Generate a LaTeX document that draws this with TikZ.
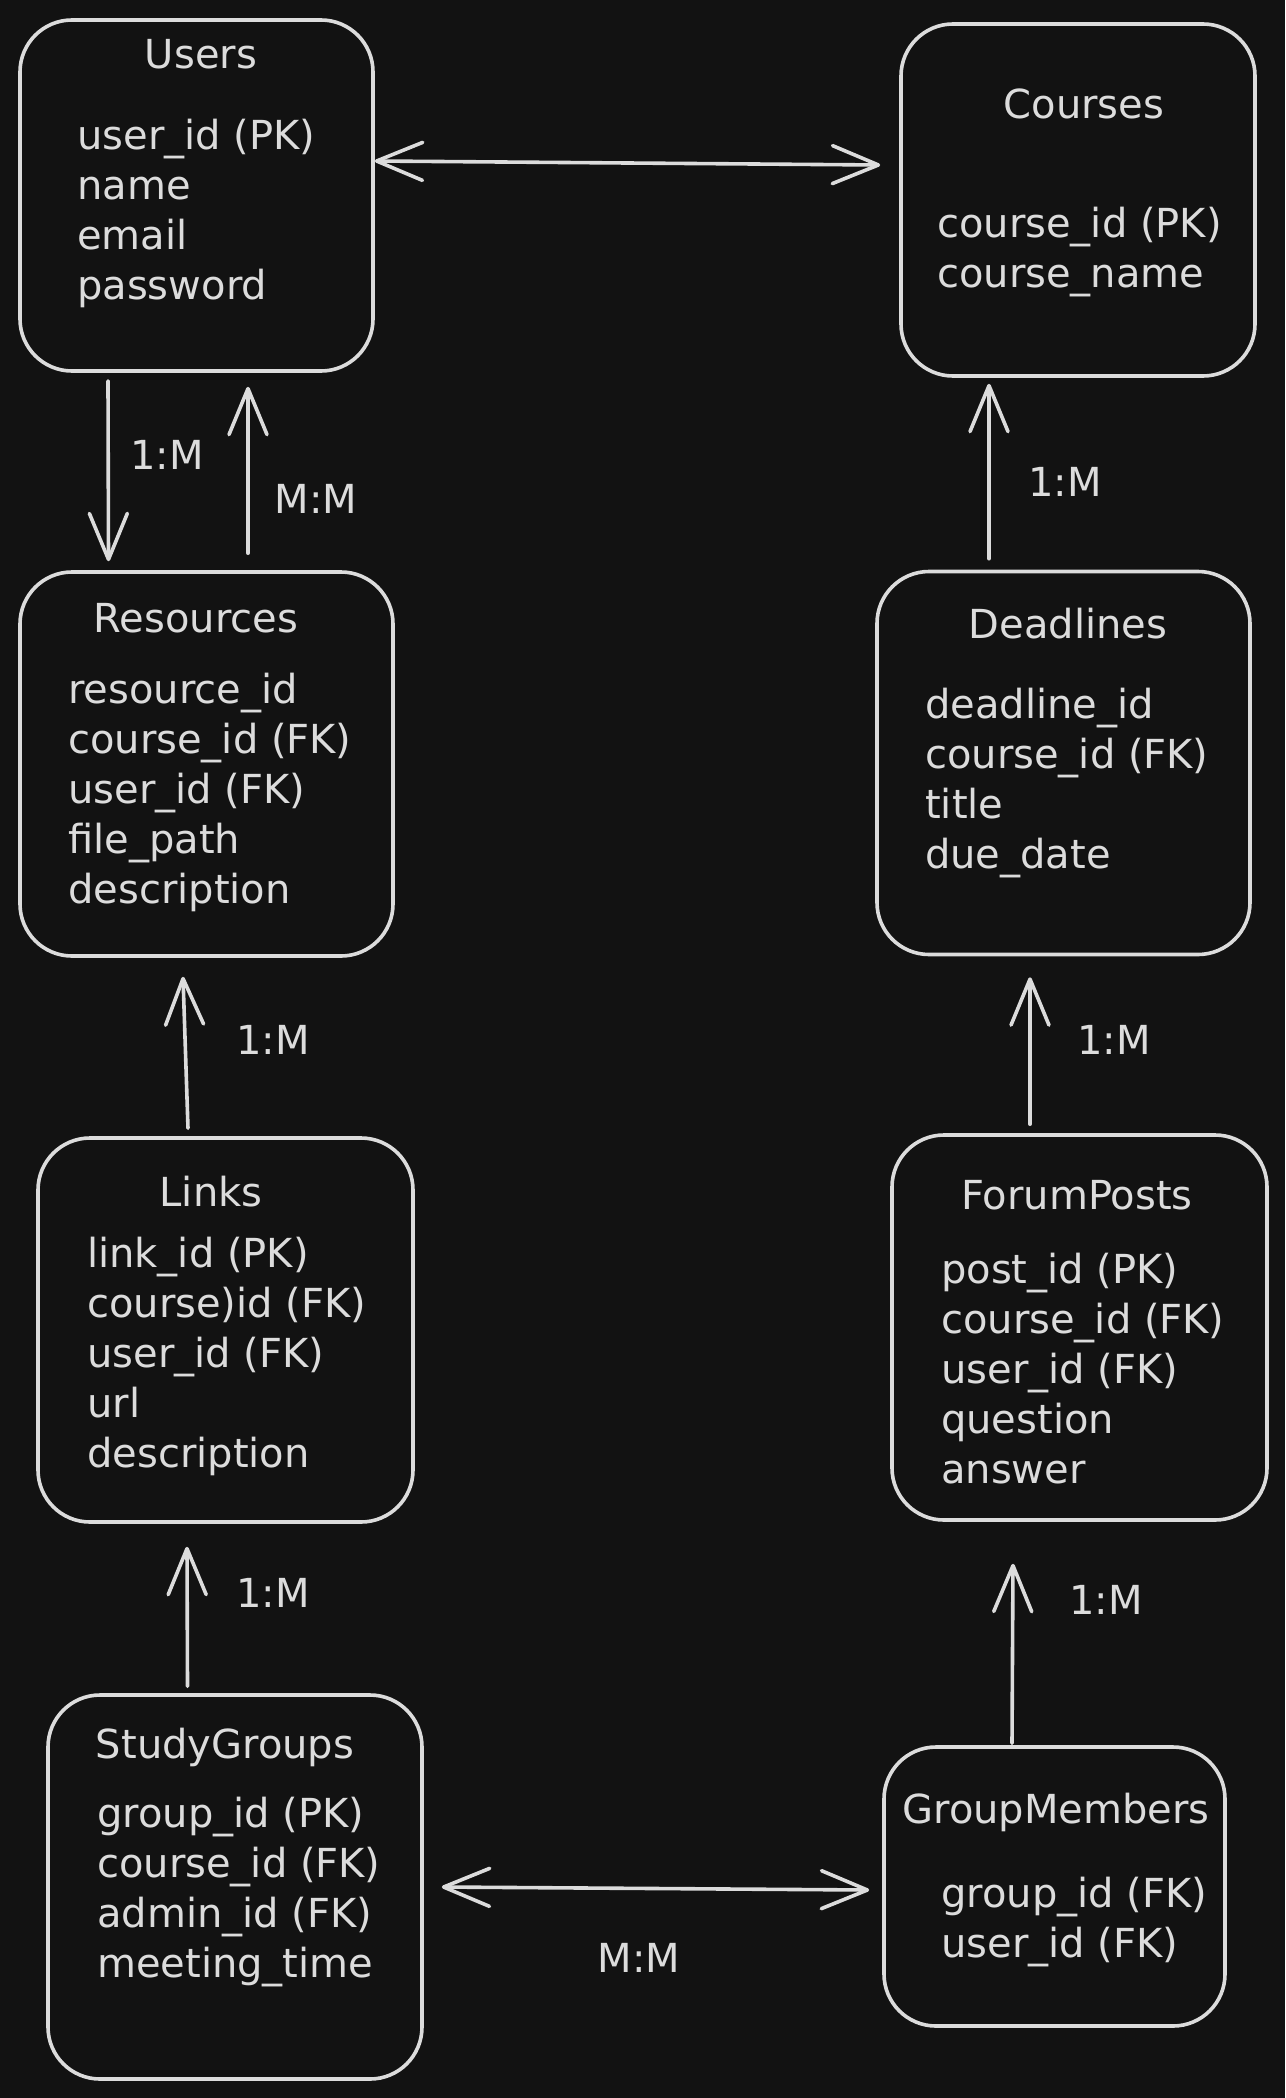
\documentclass[tikz,border=0pt]{standalone}
\usepackage{fontspec}
\setmainfont{DejaVu Sans}
\usepackage{tikz}
\usetikzlibrary{arrows.meta,positioning}
\definecolor{bg}{RGB}{18,18,18}
\definecolor{ink}{RGB}{220,220,220}
\tikzset{
  er_box/.style = {draw=ink, line width=3.6pt, rounded corners=52pt,
    inner sep=0pt},% entity box
  er_title/.style = {text=ink, anchor=base, inner sep=0pt,
    font=\fontsize{40}{50}\selectfont},% entity name
  er_attr/.style = {text=ink, anchor=north west, align=left, inner sep=0pt,
    font=\fontsize{40}{50}\selectfont},% entity fields
  er_card/.style = {text=ink, anchor=base, inner sep=0pt,
    font=\fontsize{40}{50}\selectfont},% cardinality
  er_link/.style = {draw=ink, line width=3.6pt, line cap=round}
}

\begin{document}
\begin{tikzpicture}[x=1pt,y=-1pt,>={Straight Barb[length=46pt,width=38pt,round]}]
        \fill[bg] (0,0) rectangle (1285,2098);
        % entities
        \node [er_box, minimum width=353pt, minimum height=351pt] (users) at (196.5,195.5) {};
        \node [er_box, minimum width=354pt, minimum height=352pt] (courses) at (1078,200) {};
        \node [er_box, minimum width=373pt, minimum height=384pt] (resources) at (206.5,764) {};
        \node [er_box, minimum width=373pt, minimum height=383pt] (deadlines) at (1063.5,763) {};
        \node [er_box, minimum width=375pt, minimum height=384pt] (links) at (225.5,1330) {};
        \node [er_box, minimum width=375pt, minimum height=385pt] (forum) at (1079.5,1327.5) {};
        \node [er_box, minimum width=374pt, minimum height=384pt] (study) at (235,1887) {};
        \node [er_box, minimum width=341pt, minimum height=279pt] (members) at (1054.5,1886.5) {};
        % names
        \node [er_title] (users_t) at (201,69) {Users};
        \node [er_title] (courses_t) at (1084,119) {Courses};
        \node [er_title] (resources_t) at (196,632) {Resources};
        \node [er_title] (deadlines_t) at (1068,638) {Deadlines};
        \node [er_title] (links_t) at (211,1206) {Links};
        \node [er_title] (forum_t) at (1077,1209) {ForumPosts};
        \node [er_title] (study_t) at (225,1758) {StudyGroups};
        \node [er_title] (members_t) at (1056,1823) {GroupMembers};
        % fields
        \node [er_attr] (users_a) at (77,118.5)
            {user\_id (PK)\\name\\email\\password};
        \node [er_attr] (courses_a) at (937,206.5)
            {course\_id (PK)\\course\_name};
        \node [er_attr] (resources_a) at (68,672.5)
            {resource\_id\\course\_id (FK)\\user\_id (FK)\\file\_path\\description};
        \node [er_attr] (deadlines_a) at (925,687.5)
            {deadline\_id\\course\_id (FK)\\title\\due\_date};
        \node [er_attr] (links_a) at (87,1236.5)
            {link\_id (PK)\\course)id (FK)\\user\_id (FK)\\url\\description};
        \node [er_attr] (forum_a) at (941,1252.5)
            {post\_id (PK)\\course\_id (FK)\\user\_id (FK)\\question\\answer};
        \node [er_attr] (study_a) at (97,1796.5)
            {group\_id (PK)\\course\_id (FK)\\admin\_id (FK)\\meeting\_time};
        \node [er_attr] (members_a) at (941,1876.5)
            {group\_id (FK)\\user\_id (FK)};
        % relations
        \draw [er_link,<->] ([yshift=34.5pt]users.east) -- ([xshift=-19pt,yshift=35pt]courses.west);
        \draw [er_link,->] ([xshift=-88.5pt,yshift=-8pt]users.south) -- ([xshift=-98pt,yshift=9pt]resources.north);
        \draw [er_link,->] ([xshift=41.5pt,yshift=17pt]resources.north) -- ([xshift=51.5pt,yshift=-14pt]users.south);
        \draw [er_link,->] ([xshift=-74.5pt,yshift=11pt]deadlines.north) -- ([xshift=-89pt,yshift=-6pt]courses.south);
        \draw [er_link,->] ([xshift=-37.5pt,yshift=8pt]links.north) -- ([xshift=-23.5pt,yshift=-19pt]resources.south);
        \draw [er_link,->] ([xshift=-49.5pt,yshift=9pt]forum.north) -- ([xshift=-33.5pt,yshift=-21pt]deadlines.south);
        \draw [er_link,->] ([xshift=-47.5pt,yshift=7pt]study.north) -- ([xshift=-38.5pt,yshift=-23pt]links.south);
        \draw [er_link,->] ([xshift=-42.5pt,yshift=2pt]members.north) -- ([xshift=-66.5pt,yshift=-42pt]forum.south);
        \draw [er_link,<->] ([xshift=18pt]study.east) -- ([xshift=-13pt,yshift=-3.5pt]members.west);
        % cardinalities
        \node [er_card] (c1) at (167,469) {1:M};
        \node [er_card] (c2) at (316,513) {M:M};
        \node [er_card] (c3) at (1065,496) {1:M};
        \node [er_card] (c4) at (273,1054) {1:M};
        \node [er_card] (c5) at (1114,1054) {1:M};
        \node [er_card] (c6) at (273,1607) {1:M};
        \node [er_card] (c7) at (1106,1614) {1:M};
        \node [er_card] (c8) at (639,1972) {M:M};
\end{tikzpicture}
\end{document}
